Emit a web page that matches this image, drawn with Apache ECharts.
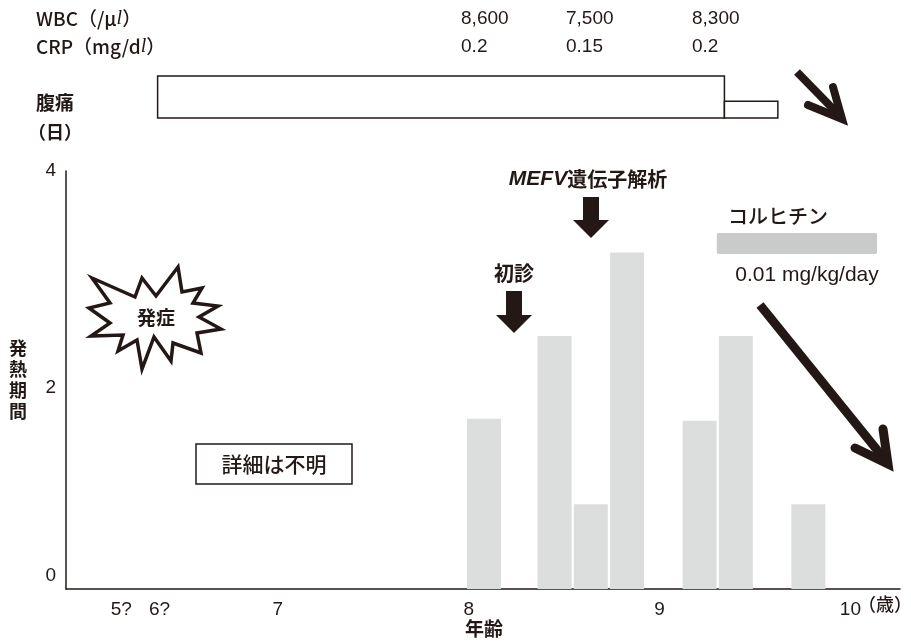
<!DOCTYPE html>
<html>
<head>
<meta charset="utf-8">
<script src="https://cdn.jsdelivr.net/npm/echarts@6/dist/echarts.min.js"></script>
<style>
html, body { margin: 0; padding: 0; background: #fff; }
#chart { width: 911px; height: 642px; }
</style>
</head>
<body>
<div id="chart"></div>
<script>
// 発熱エピソード（年齢, 発熱期間）
var feverAges = [8.08, 8.45, 8.64, 8.83, 9.21, 9.40, 9.78];
var feverDays = [1.63, 2.42, 0.81, 3.22, 1.61, 2.42, 0.81];

// x軸の目盛
var tickAges = [6.18, 6.38, 7, 8, 9, 10];
var tickLabels = ['5?', '6?', '7', '8', '9', '10'];

// 検査値
var labAges = [7.96, 8.51, 9.17];
var wbcValues = [8600, 7500, 8300];
var crpValues = [0.2, 0.15, 0.2];

// 腹痛の期間
var painStart = [6.37, 9.34];
var painEnd = [9.34, 9.62];
var painLevel = [1, 0.4];

// コルヒチン投与
var colchicineStart = [9.30];
var colchicineEnd = [10.14];

var INK = '#231815';
var JP = '"Noto Sans CJK JP", "Noto Sans", sans-serif';
var NUM = '"Liberation Sans", Arial, sans-serif';
var NARROW = '"Liberation Sans Narrow", "Liberation Sans", sans-serif';

var chart = echarts.init(document.getElementById('chart'), null, { renderer: 'canvas' });

function tickLabel(v) {
  for (var i = 0; i < tickAges.length; i++) {
    if (Math.abs(tickAges[i] - v) < 1e-6) return tickLabels[i];
  }
  return '';
}

function downArrow(cx, top, bottom) {
  // 太い下向き矢印
  var headTop = bottom - 18;
  return {
    type: 'polygon',
    shape: { points: [[cx - 8, top], [cx + 8, top], [cx + 8, headTop], [cx + 18, headTop], [cx, bottom], [cx - 18, headTop], [cx - 8, headTop]] },
    style: { fill: INK }
  };
}

var starPoints = [
  [92, 278], [135, 297], [142, 278], [156, 296], [178, 267], [182, 292], [202, 288], [193, 303],
  [218, 306], [199, 317], [221, 329], [197, 333], [201, 353], [173, 343], [171, 361], [154, 337],
  [142, 369], [137, 340], [118, 351], [123, 335], [91, 336], [110, 323], [89, 308], [110, 303]
];

var italicL = { i: { fontStyle: 'italic', fontFamily: 'Liberation Serif', fontSize: 20, fill: INK } };

var option = {
  backgroundColor: '#fff',
  animation: false,
  grid: [
    { left: 66, top: 171, right: 11, bottom: 53 },
    { left: 66, top: 76, right: 11, height: 42 }
  ],
  xAxis: [{
    type: 'value', gridIndex: 0, min: 5.89, max: 10.26,
    splitLine: { show: false },
    axisLine: { show: true, lineStyle: { color: INK, width: 1.5 } },
    axisTick: { show: false },
    axisLabel: {
      customValues: tickAges,
      formatter: tickLabel,
      color: INK, fontSize: 19, fontFamily: NARROW, margin: 11
    }
  }, {
    type: 'value', gridIndex: 1, min: 5.89, max: 10.26, show: false
  }],
  yAxis: [{
    type: 'value', gridIndex: 0, min: 0, max: 4, interval: 2,
    splitLine: { show: false },
    axisLine: { show: true, lineStyle: { color: INK, width: 1.5 } },
    axisTick: { show: false },
    axisLabel: {
      color: INK, fontSize: 19, fontFamily: NARROW, margin: 10,
      formatter: function (v) {
        if (v === 0) return '{lo|0}';
        if (v === 2) return '{mid|2}';
        return '{hi|' + v + '}';
      },
      rich: {
        lo: { fontSize: 19, fontFamily: NARROW, color: INK, padding: [0, 0, 26, 0] },
        mid: { fontSize: 19, fontFamily: NARROW, color: INK, padding: [16, 0, 0, 0] },
        hi: { fontSize: 19, fontFamily: NARROW, color: INK }
      }
    }
  }, {
    type: 'value', gridIndex: 1, min: 0, max: 1, show: false
  }],
  series: [{
    type: 'bar',
    xAxisIndex: 0, yAxisIndex: 0,
    barWidth: 34,
    silent: true,
    itemStyle: { color: '#dcdddd' },
    data: feverAges.map(function (a, i) { return [a, feverDays[i]]; })
  }, {
    // 腹痛
    type: 'custom',
    xAxisIndex: 1, yAxisIndex: 1,
    silent: true,
    data: painStart.map(function (s, i) { return [s, painEnd[i], painLevel[i]]; }),
    renderItem: function (params, api) {
      var p0 = api.coord([api.value(0), 0]);
      var p1 = api.coord([api.value(1), api.value(2)]);
      return {
        type: 'rect',
        shape: { x: p0[0], y: p1[1], width: p1[0] - p0[0], height: p0[1] - p1[1] },
        style: { fill: '#fff', stroke: INK, lineWidth: 1.5 }
      };
    }
  }, {
    // 検査値
    type: 'custom',
    xAxisIndex: 1, yAxisIndex: 1,
    silent: true,
    data: labAges.map(function (a, i) { return [a, wbcValues[i], crpValues[i]]; }),
    renderItem: function (params, api) {
      var x = api.coord([api.value(0), 0])[0];
      return {
        type: 'group',
        children: [{
          type: 'text',
          style: { x: x, y: 19, text: api.value(1).toLocaleString('en-US'), fill: INK, font: '19px ' + NUM, verticalAlign: 'middle' }
        }, {
          type: 'text',
          style: { x: x, y: 47, text: String(api.value(2)), fill: INK, font: '19px ' + NUM, verticalAlign: 'middle' }
        }]
      };
    }
  }, {
    // コルヒチン
    type: 'custom',
    xAxisIndex: 0, yAxisIndex: 0,
    silent: true,
    data: colchicineStart.map(function (s, i) { return [s, colchicineEnd[i]]; }),
    renderItem: function (params, api) {
      var x0 = api.coord([api.value(0), 0])[0];
      var x1 = api.coord([api.value(1), 0])[0];
      return {
        type: 'rect',
        shape: { x: x0, y: 233, width: x1 - x0, height: 21, r: 2 },
        style: { fill: '#c9caca' }
      };
    }
  }],
  graphic: [
    { type: 'text', x: 36, y: 19, style: { text: 'WBC（/μ{i|l}）', fill: INK, font: '500 19px ' + JP, verticalAlign: 'middle', rich: italicL } },
    { type: 'text', x: 36, y: 47, style: { text: 'CRP（mg/d{i|l}）', fill: INK, font: '500 19px ' + JP, verticalAlign: 'middle', rich: italicL } },
    { type: 'text', x: 36, y: 103, style: { text: '腹痛', fill: INK, font: 'bold 19px ' + JP, verticalAlign: 'middle' } },
    { type: 'text', x: 28, y: 132, style: { text: '（日）', fill: INK, font: 'bold 18px ' + JP, verticalAlign: 'middle' } },
    { type: 'text', left: 9, top: 338, style: { text: '発\n熱\n期\n間', fill: INK, font: 'bold 18px ' + JP, lineHeight: 21 } },
    { type: 'text', left: 858, top: 595, style: { text: '（歳）', fill: INK, font: '500 18px ' + JP } },
    { type: 'text', left: 465, top: 619, style: { text: '年齢', fill: INK, font: 'bold 19px ' + JP } },

    // 発症
    { type: 'polygon', shape: { points: starPoints }, style: { fill: '#fff', stroke: INK, lineWidth: 3.5, lineJoin: 'miter' } },
    { type: 'text', x: 156, y: 318, style: { text: '発症', fill: INK, font: 'bold 19px ' + JP, align: 'center', verticalAlign: 'middle' } },

    // 詳細は不明
    { type: 'rect', shape: { x: 196, y: 444, width: 156, height: 40 }, style: { fill: '#fff', stroke: INK, lineWidth: 1.5 } },
    { type: 'text', x: 274, y: 464, style: { text: '詳細は不明', fill: INK, font: '500 21px ' + JP, align: 'center', verticalAlign: 'middle' } },

    // 初診
    { type: 'text', x: 514, y: 273, style: { text: '初診', fill: INK, font: 'bold 20px ' + JP, align: 'center', verticalAlign: 'middle' } },
    downArrow(514, 291, 333),

    // MEFV遺伝子解析
    { type: 'text', x: 588, y: 179, style: { text: '{i|MEFV}遺伝子解析', fill: INK, font: 'bold 20px ' + JP, align: 'center', verticalAlign: 'middle', rich: { i: { fontStyle: 'italic', fontWeight: 'bold', fontFamily: NUM, fontSize: 21, fill: INK } } } },
    downArrow(591, 197, 238),

    // コルヒチン
    { type: 'text', x: 778, y: 216, style: { text: 'コルヒチン', fill: INK, font: '500 20px ' + JP, align: 'center', verticalAlign: 'middle' } },
    { type: 'text', x: 807, y: 275, style: { text: '0.01 mg/kg/day', fill: INK, font: '21px ' + NUM, align: 'center', verticalAlign: 'middle' } },

    // 矢印（改善）
    { type: 'line', shape: { x1: 797, y1: 72, x2: 840, y2: 116 }, style: { stroke: INK, lineWidth: 8 } },
    { type: 'polyline', shape: { points: [[808, 105], [842, 119], [833, 87]] }, style: { stroke: INK, lineWidth: 8, lineJoin: 'miter', lineCap: 'round', fill: null } },
    { type: 'line', shape: { x1: 760, y1: 305, x2: 886, y2: 461 }, style: { stroke: INK, lineWidth: 9 } },
    { type: 'polyline', shape: { points: [[855, 448], [888, 464], [883, 429]] }, style: { stroke: INK, lineWidth: 9, lineJoin: 'miter', lineCap: 'round', fill: null } }
  ]
};

chart.setOption(option);
</script>
</body>
</html>
